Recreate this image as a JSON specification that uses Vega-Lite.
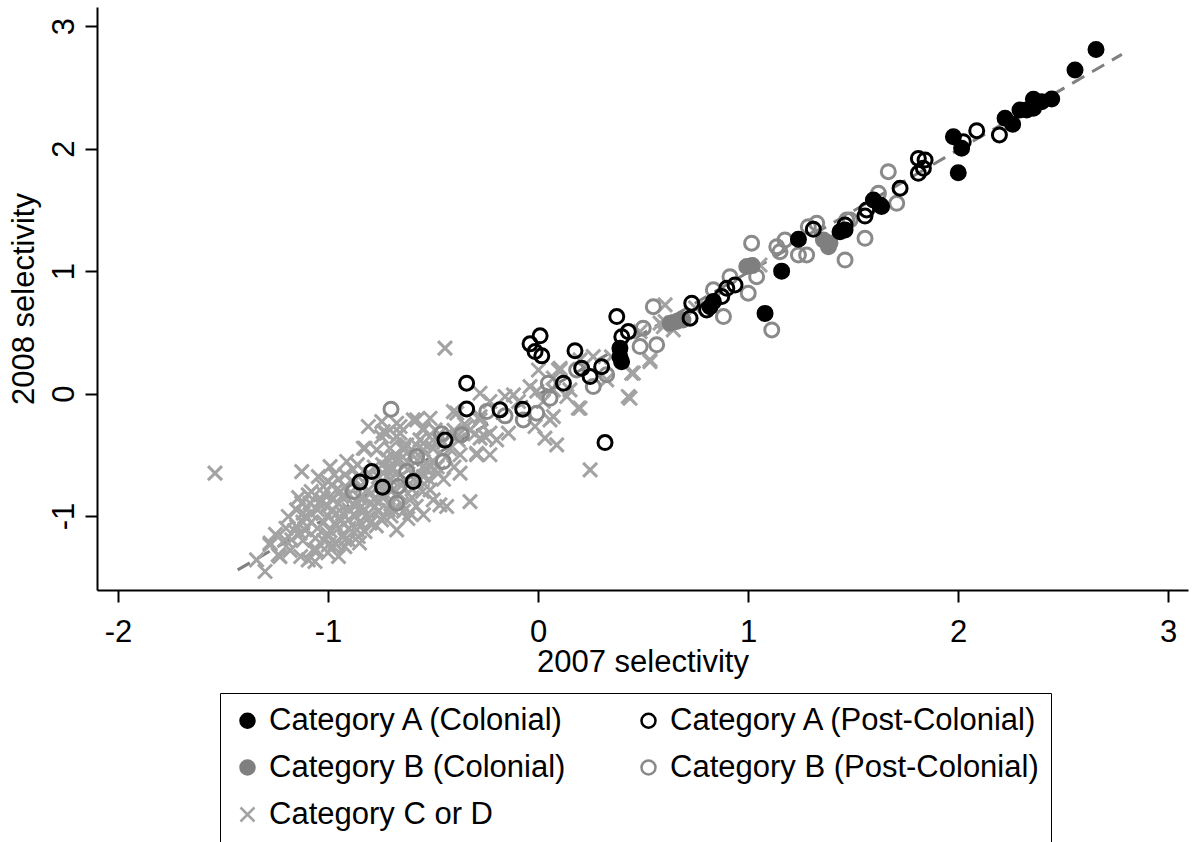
{
  "$schema": "https://vega.github.io/schema/vega-lite/v6.json",
  "width": 1091,
  "height": 583,
  "autosize": {"type": "none"},
  "padding": {"left": 97, "top": 7, "right": 5, "bottom": 252},
  "background": "white",
  "config": {
    "view": {"stroke": null},
    "font": "Liberation Sans",
    "axis": {
      "grid": false,
      "domainColor": "black",
      "domainWidth": 2,
      "tickColor": "black",
      "tickWidth": 2,
      "tickSize": 12,
      "labelFont": "Liberation Sans",
      "labelFontSize": 31,
      "labelColor": "black",
      "labelFlush": false,
      "labelExpr": "toString(datum.value)",
      "titleFont": "Liberation Sans",
      "titleFontSize": 31,
      "titleFontWeight": "normal",
      "titleColor": "black"
    }
  },
  "encoding": {
    "x": {"field": "x", "type": "quantitative", "title": "2007 selectivity",
      "scale": {"domain": [-2.1, 3.095], "nice": false, "zero": false},
      "axis": {"values": [-2, -1, 0, 1, 2, 3], "labelPadding": 15, "titlePadding": 0}},
    "y": {"field": "y", "type": "quantitative", "title": "2008 selectivity",
      "scale": {"domain": [-1.604, 3.157], "nice": false, "zero": false},
      "axis": {"values": [-1, 0, 1, 2, 3], "labelAngle": -90, "labelPadding": 5, "titlePadding": 8}}
  },
  "layer": [
    {
      "data": {"values": [{"x": -1.43, "y": -1.44}, {"x": 2.78, "y": 2.77}]},
      "mark": {"type": "line", "color": "#808080", "strokeWidth": 3, "strokeDash": [14, 9]}
    },
    {
      "data": {"values": [
        {"x": -1.538, "y": -0.65, "c": "Category C or D"},
        {"x": -1.125, "y": -0.637, "c": "Category C or D"},
        {"x": -0.99, "y": -0.596, "c": "Category C or D"},
        {"x": -0.911, "y": -0.555, "c": "Category C or D"},
        {"x": -0.824, "y": -0.446, "c": "Category C or D"},
        {"x": -0.745, "y": -0.351, "c": "Category C or D"},
        {"x": -1.046, "y": -0.678, "c": "Category C or D"},
        {"x": -0.982, "y": -0.745, "c": "Category C or D"},
        {"x": -1.094, "y": -0.827, "c": "Category C or D"},
        {"x": -1.125, "y": -0.895, "c": "Category C or D"},
        {"x": -1.189, "y": -1.004, "c": "Category C or D"},
        {"x": -1.11, "y": -1.004, "c": "Category C or D"},
        {"x": -1.149, "y": -1.086, "c": "Category C or D"},
        {"x": -1.11, "y": -1.113, "c": "Category C or D"},
        {"x": -1.173, "y": -1.194, "c": "Category C or D"},
        {"x": -1.205, "y": -1.194, "c": "Category C or D"},
        {"x": -1.276, "y": -1.235, "c": "Category C or D"},
        {"x": -1.237, "y": -1.317, "c": "Category C or D"},
        {"x": -1.34, "y": -1.358, "c": "Category C or D"},
        {"x": -1.3, "y": -1.453, "c": "Category C or D"},
        {"x": -1.07, "y": -1.276, "c": "Category C or D"},
        {"x": -1.062, "y": -1.371, "c": "Category C or D"},
        {"x": -0.998, "y": -1.235, "c": "Category C or D"},
        {"x": -0.967, "y": -1.221, "c": "Category C or D"},
        {"x": -0.919, "y": -1.194, "c": "Category C or D"},
        {"x": -0.856, "y": -1.167, "c": "Category C or D"},
        {"x": -0.824, "y": -1.127, "c": "Category C or D"},
        {"x": -1.006, "y": -0.922, "c": "Category C or D"},
        {"x": -0.935, "y": -0.841, "c": "Category C or D"},
        {"x": -0.871, "y": -0.922, "c": "Category C or D"},
        {"x": -0.903, "y": -1.031, "c": "Category C or D"},
        {"x": -0.967, "y": -1.058, "c": "Category C or D"},
        {"x": -0.808, "y": -1.017, "c": "Category C or D"},
        {"x": -0.776, "y": -0.922, "c": "Category C or D"},
        {"x": -0.745, "y": -1.031, "c": "Category C or D"},
        {"x": -0.713, "y": -0.949, "c": "Category C or D"},
        {"x": -0.745, "y": -0.841, "c": "Category C or D"},
        {"x": -0.808, "y": -0.788, "c": "Category C or D"},
        {"x": -0.856, "y": -0.678, "c": "Category C or D"},
        {"x": -0.919, "y": -0.759, "c": "Category C or D"},
        {"x": -1.03, "y": -0.868, "c": "Category C or D"},
        {"x": -0.919, "y": -0.664, "c": "Category C or D"},
        {"x": -0.697, "y": -0.623, "c": "Category C or D"},
        {"x": -0.443, "y": 0.371, "c": "Category C or D"},
        {"x": -0.808, "y": -0.269, "c": "Category C or D"},
        {"x": -0.744, "y": -0.229, "c": "Category C or D"},
        {"x": -0.673, "y": -0.242, "c": "Category C or D"},
        {"x": -0.737, "y": -0.31, "c": "Category C or D"},
        {"x": -0.657, "y": -0.323, "c": "Category C or D"},
        {"x": -0.578, "y": -0.215, "c": "Category C or D"},
        {"x": -0.546, "y": -0.296, "c": "Category C or D"},
        {"x": -0.562, "y": -0.378, "c": "Category C or D"},
        {"x": -0.49, "y": -0.296, "c": "Category C or D"},
        {"x": -0.475, "y": -0.378, "c": "Category C or D"},
        {"x": -0.832, "y": -0.446, "c": "Category C or D"},
        {"x": -0.768, "y": -0.46, "c": "Category C or D"},
        {"x": -0.705, "y": -0.446, "c": "Category C or D"},
        {"x": -0.641, "y": -0.433, "c": "Category C or D"},
        {"x": -0.546, "y": -0.46, "c": "Category C or D"},
        {"x": -0.721, "y": -0.527, "c": "Category C or D"},
        {"x": -0.657, "y": -0.541, "c": "Category C or D"},
        {"x": -0.387, "y": -0.16, "c": "Category C or D"},
        {"x": -0.34, "y": -0.269, "c": "Category C or D"},
        {"x": -0.276, "y": -0.188, "c": "Category C or D"},
        {"x": -0.252, "y": -0.351, "c": "Category C or D"},
        {"x": -0.292, "y": -0.5, "c": "Category C or D"},
        {"x": -0.371, "y": -0.65, "c": "Category C or D"},
        {"x": -0.475, "y": -0.65, "c": "Category C or D"},
        {"x": -0.546, "y": -0.678, "c": "Category C or D"},
        {"x": -0.514, "y": -0.786, "c": "Category C or D"},
        {"x": -0.499, "y": -0.868, "c": "Category C or D"},
        {"x": -0.467, "y": -0.909, "c": "Category C or D"},
        {"x": -0.546, "y": -0.99, "c": "Category C or D"},
        {"x": -0.61, "y": -0.976, "c": "Category C or D"},
        {"x": -0.689, "y": -0.949, "c": "Category C or D"},
        {"x": -0.673, "y": -1.113, "c": "Category C or D"},
        {"x": -0.737, "y": -1.004, "c": "Category C or D"},
        {"x": -0.8, "y": -1.058, "c": "Category C or D"},
        {"x": -0.863, "y": -1.113, "c": "Category C or D"},
        {"x": -0.927, "y": -1.167, "c": "Category C or D"},
        {"x": -0.975, "y": -1.249, "c": "Category C or D"},
        {"x": -1.054, "y": -1.276, "c": "Category C or D"},
        {"x": -1.094, "y": -1.358, "c": "Category C or D"},
        {"x": -1.133, "y": -1.14, "c": "Category C or D"},
        {"x": -1.022, "y": -0.759, "c": "Category C or D"},
        {"x": -0.959, "y": -0.786, "c": "Category C or D"},
        {"x": -1.086, "y": -0.895, "c": "Category C or D"},
        {"x": -1.118, "y": -0.976, "c": "Category C or D"},
        {"x": -1.276, "y": -1.221, "c": "Category C or D"},
        {"x": -1.229, "y": -1.331, "c": "Category C or D"},
        {"x": -0.324, "y": -0.882, "c": "Category C or D"},
        {"x": -0.435, "y": -0.922, "c": "Category C or D"},
        {"x": -1.05, "y": -0.95, "c": "Category C or D"},
        {"x": -1.0, "y": -1.0, "c": "Category C or D"},
        {"x": -0.95, "y": -0.9, "c": "Category C or D"},
        {"x": -0.9, "y": -0.95, "c": "Category C or D"},
        {"x": -0.85, "y": -0.85, "c": "Category C or D"},
        {"x": -0.8, "y": -0.9, "c": "Category C or D"},
        {"x": -0.95, "y": -1.1, "c": "Category C or D"},
        {"x": -1.0, "y": -1.15, "c": "Category C or D"},
        {"x": -0.9, "y": -1.1, "c": "Category C or D"},
        {"x": -0.85, "y": -1.05, "c": "Category C or D"},
        {"x": -0.75, "y": -0.75, "c": "Category C or D"},
        {"x": -0.7, "y": -0.8, "c": "Category C or D"},
        {"x": -0.65, "y": -0.75, "c": "Category C or D"},
        {"x": -0.6, "y": -0.85, "c": "Category C or D"},
        {"x": -0.65, "y": -0.9, "c": "Category C or D"},
        {"x": -0.7, "y": -0.7, "c": "Category C or D"},
        {"x": -0.78, "y": -0.6, "c": "Category C or D"},
        {"x": -0.68, "y": -0.55, "c": "Category C or D"},
        {"x": -0.62, "y": -0.62, "c": "Category C or D"},
        {"x": -0.55, "y": -0.6, "c": "Category C or D"},
        {"x": -0.5, "y": -0.55, "c": "Category C or D"},
        {"x": -0.52, "y": -0.7, "c": "Category C or D"},
        {"x": -0.45, "y": -0.7, "c": "Category C or D"},
        {"x": -0.4, "y": -0.6, "c": "Category C or D"},
        {"x": -0.42, "y": -0.45, "c": "Category C or D"},
        {"x": -0.55, "y": -0.8, "c": "Category C or D"},
        {"x": -1.08, "y": -1.05, "c": "Category C or D"},
        {"x": -1.02, "y": -0.82, "c": "Category C or D"},
        {"x": -0.88, "y": -0.72, "c": "Category C or D"},
        {"x": -0.96, "y": -0.98, "c": "Category C or D"},
        {"x": -0.83, "y": -0.96, "c": "Category C or D"},
        {"x": -0.77, "y": -1.08, "c": "Category C or D"},
        {"x": -1.12, "y": -1.2, "c": "Category C or D"},
        {"x": -1.0, "y": -1.3, "c": "Category C or D"},
        {"x": -0.92, "y": -1.25, "c": "Category C or D"},
        {"x": -0.88, "y": -0.62, "c": "Category C or D"},
        {"x": -0.72, "y": -0.68, "c": "Category C or D"},
        {"x": -0.6, "y": -0.5, "c": "Category C or D"},
        {"x": -0.5, "y": -0.45, "c": "Category C or D"},
        {"x": -0.47, "y": -0.33, "c": "Category C or D"},
        {"x": -0.38, "y": -0.38, "c": "Category C or D"},
        {"x": -0.35, "y": -0.25, "c": "Category C or D"},
        {"x": -0.3, "y": -0.33, "c": "Category C or D"},
        {"x": -0.95, "y": -0.7, "c": "Category C or D"},
        {"x": -1.15, "y": -0.95, "c": "Category C or D"},
        {"x": -0.62, "y": -1.02, "c": "Category C or D"},
        {"x": -0.58, "y": -0.92, "c": "Category C or D"},
        {"x": -1.05, "y": -1.1, "c": "Category C or D"},
        {"x": -1.02, "y": -1.05, "c": "Category C or D"},
        {"x": -0.98, "y": -0.95, "c": "Category C or D"},
        {"x": -0.93, "y": -0.98, "c": "Category C or D"},
        {"x": -0.88, "y": -0.9, "c": "Category C or D"},
        {"x": -0.84, "y": -0.92, "c": "Category C or D"},
        {"x": -0.8, "y": -0.82, "c": "Category C or D"},
        {"x": -0.78, "y": -0.86, "c": "Category C or D"},
        {"x": -0.74, "y": -0.8, "c": "Category C or D"},
        {"x": -0.7, "y": -0.9, "c": "Category C or D"},
        {"x": -0.66, "y": -0.82, "c": "Category C or D"},
        {"x": -0.63, "y": -0.7, "c": "Category C or D"},
        {"x": -0.58, "y": -0.72, "c": "Category C or D"},
        {"x": -0.53, "y": -0.62, "c": "Category C or D"},
        {"x": -0.48, "y": -0.6, "c": "Category C or D"},
        {"x": -0.44, "y": -0.52, "c": "Category C or D"},
        {"x": -0.56, "y": -0.52, "c": "Category C or D"},
        {"x": -0.62, "y": -0.56, "c": "Category C or D"},
        {"x": -0.67, "y": -0.64, "c": "Category C or D"},
        {"x": -0.74, "y": -0.58, "c": "Category C or D"},
        {"x": -0.8, "y": -0.66, "c": "Category C or D"},
        {"x": -0.84, "y": -0.76, "c": "Category C or D"},
        {"x": -0.9, "y": -0.82, "c": "Category C or D"},
        {"x": -0.94, "y": -0.8, "c": "Category C or D"},
        {"x": -0.98, "y": -0.86, "c": "Category C or D"},
        {"x": -1.04, "y": -0.9, "c": "Category C or D"},
        {"x": -1.08, "y": -0.98, "c": "Category C or D"},
        {"x": -1.12, "y": -1.05, "c": "Category C or D"},
        {"x": -1.16, "y": -1.12, "c": "Category C or D"},
        {"x": -1.06, "y": -1.18, "c": "Category C or D"},
        {"x": -0.99, "y": -1.12, "c": "Category C or D"},
        {"x": -0.94, "y": -1.04, "c": "Category C or D"},
        {"x": -0.87, "y": -1.0, "c": "Category C or D"},
        {"x": -0.82, "y": -1.0, "c": "Category C or D"},
        {"x": -0.76, "y": -0.96, "c": "Category C or D"},
        {"x": -0.7, "y": -1.0, "c": "Category C or D"},
        {"x": -0.64, "y": -0.96, "c": "Category C or D"},
        {"x": -0.6, "y": -0.78, "c": "Category C or D"},
        {"x": -0.7, "y": -0.6, "c": "Category C or D"},
        {"x": -0.76, "y": -0.68, "c": "Category C or D"},
        {"x": -0.86, "y": -0.58, "c": "Category C or D"},
        {"x": -0.97, "y": -0.66, "c": "Category C or D"},
        {"x": -1.0, "y": -0.72, "c": "Category C or D"},
        {"x": -1.08, "y": -0.8, "c": "Category C or D"},
        {"x": -1.14, "y": -0.85, "c": "Category C or D"},
        {"x": -0.5, "y": -0.38, "c": "Category C or D"},
        {"x": -0.45, "y": -0.4, "c": "Category C or D"},
        {"x": -0.4, "y": -0.3, "c": "Category C or D"},
        {"x": -0.58, "y": -0.42, "c": "Category C or D"},
        {"x": -0.64, "y": -0.46, "c": "Category C or D"},
        {"x": -1.2, "y": -1.1, "c": "Category C or D"},
        {"x": -1.25, "y": -1.15, "c": "Category C or D"},
        {"x": -1.18, "y": -1.28, "c": "Category C or D"},
        {"x": -1.13, "y": -1.33, "c": "Category C or D"},
        {"x": -1.02, "y": -1.2, "c": "Category C or D"},
        {"x": -0.9, "y": -1.2, "c": "Category C or D"},
        {"x": -0.85, "y": -1.22, "c": "Category C or D"},
        {"x": -0.95, "y": -1.33, "c": "Category C or D"},
        {"x": -0.276, "y": 0.003, "c": "Category C or D"},
        {"x": -0.229, "y": -0.065, "c": "Category C or D"},
        {"x": -0.157, "y": -0.024, "c": "Category C or D"},
        {"x": -0.117, "y": -0.011, "c": "Category C or D"},
        {"x": -0.093, "y": -0.065, "c": "Category C or D"},
        {"x": 0.097, "y": 0.193, "c": "Category C or D"},
        {"x": 0.073, "y": 0.126, "c": "Category C or D"},
        {"x": -0.006, "y": 0.02, "c": "Category C or D"},
        {"x": 0.025, "y": -0.065, "c": "Category C or D"},
        {"x": 0.057, "y": -0.215, "c": "Category C or D"},
        {"x": 0.033, "y": -0.364, "c": "Category C or D"},
        {"x": 0.089, "y": -0.419, "c": "Category C or D"},
        {"x": 0.192, "y": -0.119, "c": "Category C or D"},
        {"x": -0.276, "y": -0.215, "c": "Category C or D"},
        {"x": -0.229, "y": -0.323, "c": "Category C or D"},
        {"x": -0.141, "y": -0.323, "c": "Category C or D"},
        {"x": -0.292, "y": -0.487, "c": "Category C or D"},
        {"x": -0.229, "y": -0.5, "c": "Category C or D"},
        {"x": -0.371, "y": -0.5, "c": "Category C or D"},
        {"x": -0.403, "y": -0.147, "c": "Category C or D"},
        {"x": -0.514, "y": -0.201, "c": "Category C or D"},
        {"x": -0.594, "y": -0.215, "c": "Category C or D"},
        {"x": -0.546, "y": -0.283, "c": "Category C or D"},
        {"x": -0.657, "y": -0.269, "c": "Category C or D"},
        {"x": -0.721, "y": -0.323, "c": "Category C or D"},
        {"x": -0.673, "y": -0.351, "c": "Category C or D"},
        {"x": -0.625, "y": -0.419, "c": "Category C or D"},
        {"x": -0.546, "y": -0.405, "c": "Category C or D"},
        {"x": -0.499, "y": -0.446, "c": "Category C or D"},
        {"x": -0.387, "y": -0.351, "c": "Category C or D"},
        {"x": -0.324, "y": -0.296, "c": "Category C or D"},
        {"x": -0.276, "y": -0.364, "c": "Category C or D"},
        {"x": -0.197, "y": -0.378, "c": "Category C or D"},
        {"x": -0.689, "y": -0.514, "c": "Category C or D"},
        {"x": -0.514, "y": -0.596, "c": "Category C or D"},
        {"x": -0.721, "y": -0.623, "c": "Category C or D"},
        {"x": -0.578, "y": -0.678, "c": "Category C or D"},
        {"x": 0.073, "y": -0.188, "c": "Category C or D"},
        {"x": -0.014, "y": -0.269, "c": "Category C or D"},
        {"x": 0.2, "y": -0.119, "c": "Category C or D"},
        {"x": 0.248, "y": -0.623, "c": "Category C or D"},
        {"x": 0.438, "y": -0.038, "c": "Category C or D"},
        {"x": 0.454, "y": 0.167, "c": "Category C or D"},
        {"x": 0.533, "y": 0.275, "c": "Category C or D"},
        {"x": 0.002, "y": 0.193, "c": "Category C or D"},
        {"x": 0.105, "y": 0.193, "c": "Category C or D"},
        {"x": 0.2, "y": 0.275, "c": "Category C or D"},
        {"x": 0.263, "y": 0.302, "c": "Category C or D"},
        {"x": 0.073, "y": 0.03, "c": "Category C or D"},
        {"x": 0.152, "y": 0.03, "c": "Category C or D"},
        {"x": 0.327, "y": 0.112, "c": "Category C or D"},
        {"x": -0.038, "y": 0.057, "c": "Category C or D"},
        {"x": 0.605, "y": 0.724, "c": "Category C or D"},
        {"x": 0.581, "y": 0.575, "c": "Category C or D"},
        {"x": 0.533, "y": 0.261, "c": "Category C or D"},
        {"x": 0.486, "y": 0.506, "c": "Category C or D"},
        {"x": 0.644, "y": 0.52, "c": "Category C or D"},
        {"x": 0.605, "y": 0.588, "c": "Category C or D"},
        {"x": 0.105, "y": 0.207, "c": "Category C or D"},
        {"x": 0.137, "y": -0.024, "c": "Category C or D"},
        {"x": 0.43, "y": -0.024, "c": "Category C or D"},
        {"x": 0.446, "y": 0.167, "c": "Category C or D"},
        {"x": 0.597, "y": 0.547, "c": "Category C or D"},
        {"x": 1.057, "y": 1.05, "c": "Category C or D"},
        {"x": 0.75, "y": 0.7, "c": "Category C or D"},
        {"x": 0.35, "y": 0.3, "c": "Category C or D"},
        {"x": -0.7, "y": -0.127, "c": "Category B (Post-Colonial)"},
        {"x": -0.459, "y": -0.329, "c": "Category B (Post-Colonial)"},
        {"x": -0.364, "y": -0.337, "c": "Category B (Post-Colonial)"},
        {"x": -0.451, "y": -0.555, "c": "Category B (Post-Colonial)"},
        {"x": -0.578, "y": -0.514, "c": "Category B (Post-Colonial)"},
        {"x": -0.625, "y": -0.637, "c": "Category B (Post-Colonial)"},
        {"x": -0.665, "y": -0.759, "c": "Category B (Post-Colonial)"},
        {"x": -0.673, "y": -0.895, "c": "Category B (Post-Colonial)"},
        {"x": -0.88, "y": -0.8, "c": "Category B (Post-Colonial)"},
        {"x": -0.244, "y": -0.147, "c": "Category B (Post-Colonial)"},
        {"x": -0.157, "y": -0.182, "c": "Category B (Post-Colonial)"},
        {"x": -0.07, "y": -0.215, "c": "Category B (Post-Colonial)"},
        {"x": -0.006, "y": -0.16, "c": "Category B (Post-Colonial)"},
        {"x": 0.049, "y": 0.085, "c": "Category B (Post-Colonial)"},
        {"x": 0.057, "y": -0.038, "c": "Category B (Post-Colonial)"},
        {"x": 0.184, "y": 0.193, "c": "Category B (Post-Colonial)"},
        {"x": 0.263, "y": 0.057, "c": "Category B (Post-Colonial)"},
        {"x": 0.327, "y": 0.153, "c": "Category B (Post-Colonial)"},
        {"x": 0.549, "y": 0.71, "c": "Category B (Post-Colonial)"},
        {"x": 0.565, "y": 0.398, "c": "Category B (Post-Colonial)"},
        {"x": 0.486, "y": 0.384, "c": "Category B (Post-Colonial)"},
        {"x": 0.501, "y": 0.534, "c": "Category B (Post-Colonial)"},
        {"x": 0.835, "y": 0.847, "c": "Category B (Post-Colonial)"},
        {"x": 0.914, "y": 0.955, "c": "Category B (Post-Colonial)"},
        {"x": 1.001, "y": 0.82, "c": "Category B (Post-Colonial)"},
        {"x": 0.883, "y": 0.629, "c": "Category B (Post-Colonial)"},
        {"x": 1.113, "y": 0.52, "c": "Category B (Post-Colonial)"},
        {"x": 1.017, "y": 1.228, "c": "Category B (Post-Colonial)"},
        {"x": 1.137, "y": 1.2, "c": "Category B (Post-Colonial)"},
        {"x": 1.176, "y": 1.255, "c": "Category B (Post-Colonial)"},
        {"x": 1.152, "y": 1.159, "c": "Category B (Post-Colonial)"},
        {"x": 1.24, "y": 1.132, "c": "Category B (Post-Colonial)"},
        {"x": 1.279, "y": 1.132, "c": "Category B (Post-Colonial)"},
        {"x": 1.041, "y": 0.955, "c": "Category B (Post-Colonial)"},
        {"x": 1.287, "y": 1.363, "c": "Category B (Post-Colonial)"},
        {"x": 1.327, "y": 1.391, "c": "Category B (Post-Colonial)"},
        {"x": 1.47, "y": 1.418, "c": "Category B (Post-Colonial)"},
        {"x": 1.557, "y": 1.268, "c": "Category B (Post-Colonial)"},
        {"x": 1.462, "y": 1.091, "c": "Category B (Post-Colonial)"},
        {"x": 1.621, "y": 1.636, "c": "Category B (Post-Colonial)"},
        {"x": 1.708, "y": 1.554, "c": "Category B (Post-Colonial)"},
        {"x": 1.668, "y": 1.812, "c": "Category B (Post-Colonial)"},
        {"x": 1.486, "y": 1.418, "c": "Category B (Post-Colonial)"},
        {"x": 0.63, "y": 0.575, "c": "Category B (Colonial)"},
        {"x": 0.66, "y": 0.588, "c": "Category B (Colonial)"},
        {"x": 0.69, "y": 0.6, "c": "Category B (Colonial)"},
        {"x": 0.994, "y": 1.037, "c": "Category B (Colonial)"},
        {"x": 1.02, "y": 1.045, "c": "Category B (Colonial)"},
        {"x": 1.359, "y": 1.255, "c": "Category B (Colonial)"},
        {"x": 1.383, "y": 1.2, "c": "Category B (Colonial)"},
        {"x": 1.39, "y": 1.23, "c": "Category B (Colonial)"},
        {"x": -0.848, "y": -0.723, "c": "Category A (Post-Colonial)"},
        {"x": -0.792, "y": -0.637, "c": "Category A (Post-Colonial)"},
        {"x": -0.74, "y": -0.764, "c": "Category A (Post-Colonial)"},
        {"x": -0.594, "y": -0.718, "c": "Category A (Post-Colonial)"},
        {"x": -0.443, "y": -0.38, "c": "Category A (Post-Colonial)"},
        {"x": -0.34, "y": 0.085, "c": "Category A (Post-Colonial)"},
        {"x": -0.34, "y": -0.125, "c": "Category A (Post-Colonial)"},
        {"x": -0.181, "y": -0.133, "c": "Category A (Post-Colonial)"},
        {"x": -0.073, "y": -0.127, "c": "Category A (Post-Colonial)"},
        {"x": 0.01, "y": 0.472, "c": "Category A (Post-Colonial)"},
        {"x": -0.038, "y": 0.406, "c": "Category A (Post-Colonial)"},
        {"x": -0.014, "y": 0.343, "c": "Category A (Post-Colonial)"},
        {"x": 0.018, "y": 0.308, "c": "Category A (Post-Colonial)"},
        {"x": 0.121, "y": 0.085, "c": "Category A (Post-Colonial)"},
        {"x": 0.176, "y": 0.35, "c": "Category A (Post-Colonial)"},
        {"x": 0.208, "y": 0.207, "c": "Category A (Post-Colonial)"},
        {"x": 0.248, "y": 0.139, "c": "Category A (Post-Colonial)"},
        {"x": 0.303, "y": 0.22, "c": "Category A (Post-Colonial)"},
        {"x": 0.319, "y": -0.4, "c": "Category A (Post-Colonial)"},
        {"x": 0.375, "y": 0.629, "c": "Category A (Post-Colonial)"},
        {"x": 0.399, "y": 0.465, "c": "Category A (Post-Colonial)"},
        {"x": 0.43, "y": 0.506, "c": "Category A (Post-Colonial)"},
        {"x": 0.732, "y": 0.738, "c": "Category A (Post-Colonial)"},
        {"x": 0.724, "y": 0.616, "c": "Category A (Post-Colonial)"},
        {"x": 0.803, "y": 0.683, "c": "Category A (Post-Colonial)"},
        {"x": 0.875, "y": 0.792, "c": "Category A (Post-Colonial)"},
        {"x": 0.899, "y": 0.86, "c": "Category A (Post-Colonial)"},
        {"x": 0.938, "y": 0.887, "c": "Category A (Post-Colonial)"},
        {"x": 1.311, "y": 1.342, "c": "Category A (Post-Colonial)"},
        {"x": 1.557, "y": 1.45, "c": "Category A (Post-Colonial)"},
        {"x": 1.565, "y": 1.5, "c": "Category A (Post-Colonial)"},
        {"x": 1.724, "y": 1.677, "c": "Category A (Post-Colonial)"},
        {"x": 1.811, "y": 1.92, "c": "Category A (Post-Colonial)"},
        {"x": 1.843, "y": 1.908, "c": "Category A (Post-Colonial)"},
        {"x": 1.811, "y": 1.799, "c": "Category A (Post-Colonial)"},
        {"x": 1.835, "y": 1.84, "c": "Category A (Post-Colonial)"},
        {"x": 2.025, "y": 2.057, "c": "Category A (Post-Colonial)"},
        {"x": 2.089, "y": 2.147, "c": "Category A (Post-Colonial)"},
        {"x": 2.197, "y": 2.112, "c": "Category A (Post-Colonial)"},
        {"x": 1.462, "y": 1.377, "c": "Category A (Post-Colonial)"},
        {"x": 0.39, "y": 0.37, "c": "Category A (Colonial)"},
        {"x": 0.39, "y": 0.3, "c": "Category A (Colonial)"},
        {"x": 0.398, "y": 0.26, "c": "Category A (Colonial)"},
        {"x": 0.835, "y": 0.751, "c": "Category A (Colonial)"},
        {"x": 0.819, "y": 0.71, "c": "Category A (Colonial)"},
        {"x": 1.081, "y": 0.655, "c": "Category A (Colonial)"},
        {"x": 1.16, "y": 1.0, "c": "Category A (Colonial)"},
        {"x": 1.24, "y": 1.26, "c": "Category A (Colonial)"},
        {"x": 1.438, "y": 1.322, "c": "Category A (Colonial)"},
        {"x": 1.462, "y": 1.336, "c": "Category A (Colonial)"},
        {"x": 1.597, "y": 1.581, "c": "Category A (Colonial)"},
        {"x": 1.629, "y": 1.54, "c": "Category A (Colonial)"},
        {"x": 1.636, "y": 1.527, "c": "Category A (Colonial)"},
        {"x": 1.978, "y": 2.098, "c": "Category A (Colonial)"},
        {"x": 2.017, "y": 2.003, "c": "Category A (Colonial)"},
        {"x": 2.001, "y": 1.804, "c": "Category A (Colonial)"},
        {"x": 2.224, "y": 2.248, "c": "Category A (Colonial)"},
        {"x": 2.26, "y": 2.2, "c": "Category A (Colonial)"},
        {"x": 2.295, "y": 2.316, "c": "Category A (Colonial)"},
        {"x": 2.327, "y": 2.316, "c": "Category A (Colonial)"},
        {"x": 2.359, "y": 2.33, "c": "Category A (Colonial)"},
        {"x": 2.359, "y": 2.403, "c": "Category A (Colonial)"},
        {"x": 2.398, "y": 2.384, "c": "Category A (Colonial)"},
        {"x": 2.446, "y": 2.406, "c": "Category A (Colonial)"},
        {"x": 2.557, "y": 2.642, "c": "Category A (Colonial)"},
        {"x": 2.657, "y": 2.81, "c": "Category A (Colonial)"}
      ]},
      "mark": {"type": "point", "opacity": 1, "strokeWidth": 3},
      "encoding": {
        "shape": {"field": "c", "type": "nominal",
          "scale": {"domain": ["Category A (Colonial)", "Category B (Colonial)", "Category C or D", "Category A (Post-Colonial)", "Category B (Post-Colonial)"],
            "range": ["circle", "circle", "M-1,-1L1,1M-1,1L1,-1", "circle", "circle"]},
          "legend": {"title": null, "orient": "none", "legendX": 123, "legendY": 686, "columns": 2, "columnPadding": 67, "rowPadding": 15, "padding": 12, "strokeColor": "black", "fillColor": "white", "labelFontSize": 31, "labelFont": "Liberation Sans", "labelColor": "black", "labelLimit": 600, "symbolStrokeWidth": 2.5, "labelOffset": 6,
            "encode": {"legend": {"update": {"strokeWidth": {"value": 2}}}}}},
        "fill": {"field": "c", "type": "nominal",
          "scale": {"domain": ["Category A (Colonial)", "Category B (Colonial)", "Category C or D", "Category A (Post-Colonial)", "Category B (Post-Colonial)"],
            "range": ["#000000", "#7f7f7f", "transparent", "transparent", "transparent"]}},
        "stroke": {"field": "c", "type": "nominal",
          "scale": {"domain": ["Category A (Colonial)", "Category B (Colonial)", "Category C or D", "Category A (Post-Colonial)", "Category B (Post-Colonial)"],
            "range": ["#000000", "#7f7f7f", "#a3a3a3", "#000000", "#8a8a8a"]}},
        "size": {"field": "c", "type": "nominal",
          "scale": {"domain": ["Category A (Colonial)", "Category B (Colonial)", "Category C or D", "Category A (Post-Colonial)", "Category B (Post-Colonial)"],
            "range": [196, 196, 100, 225, 225]}}
      }
    }
  ]
}
